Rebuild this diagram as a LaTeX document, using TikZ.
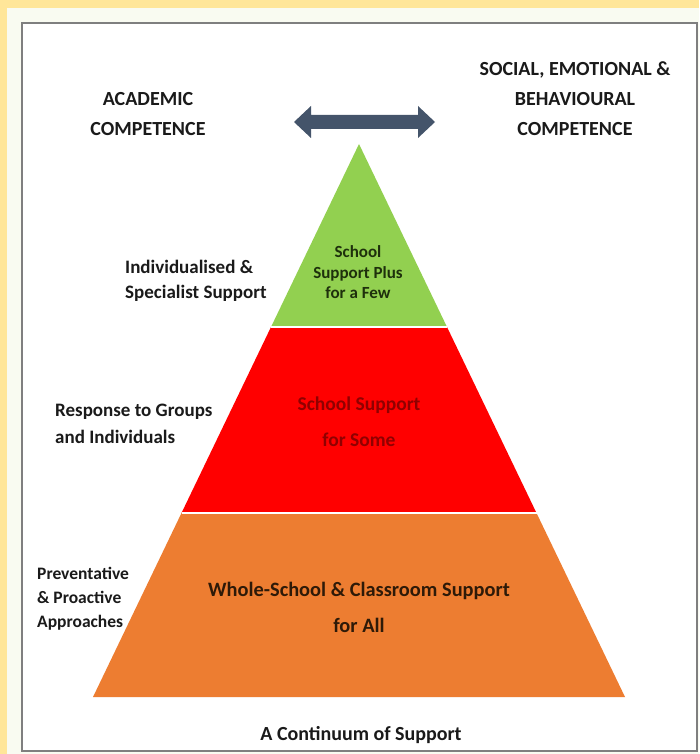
\documentclass[tikz,border=0pt]{standalone}
\usepackage{fontspec}
\setmainfont{Carlito}
\definecolor{yellowbg}{HTML}{FFE699}
\definecolor{palebg}{HTML}{F9FBF1}
\definecolor{boxgrey}{HTML}{7F7F7F}
\definecolor{tiergreen}{HTML}{92D050}
\definecolor{tierred}{HTML}{FF0000}
\definecolor{tierorange}{HTML}{ED7D31}
\definecolor{arrowcol}{HTML}{44546A}
\definecolor{txtgreen}{HTML}{1E300C}
\definecolor{txtred}{HTML}{900000}
\definecolor{txtorange}{HTML}{2E1A08}
\definecolor{txtdark}{HTML}{1A1A1A}
\tikzset{
  lbl/.style={inner sep=0pt, text=txtdark, font=\bfseries},
  hdr/.style={lbl, align=center, font=\bfseries\fontsize{20}{30}\selectfont},
  side/.style={lbl, align=left, anchor=west},
  tiertext/.style={inner sep=0pt, align=center},
  sep/.style={line width=1.6pt, draw=white}
}
\begin{document}
\begin{tikzpicture}[x=1pt,y=-1pt]
\useasboundingbox (0,0) rectangle (699,754);
\fill[yellowbg] (0,0) rectangle (699,754);
\fill[palebg] (7,8) rectangle (699,754);
\draw[boxgrey, line width=1.3pt, fill=white] (22,23) rectangle (697,751);

% pyramid tiers
\fill[tiergreen] (359,144) -- (447,327) -- (271,327) -- cycle;
\fill[tierred] (271,327) -- (447,327) -- (536.5,513) -- (181.5,513) -- cycle;
\fill[tierorange] (181.5,513) -- (536.5,513) -- (625,697) -- (93,697) -- cycle;
\draw[sep] (271,327) -- (447,327);
\draw[sep] (181.5,513) -- (536.5,513);

% double arrow
\fill[arrowcol] (294,122) -- (311,106) -- (311,115) -- (418,115) -- (418,106) -- (435,122)
  -- (418,138) -- (418,129) -- (311,129) -- (311,138) -- cycle;

% headers
\node[hdr] (acad) at (148,114) {ACADEMIC\\COMPETENCE};
\node[hdr] (sem) at (575,99) {SOCIAL, EMOTIONAL \&\\BEHAVIOURAL\\COMPETENCE};

% side labels
\node[side, font=\bfseries\fontsize{19}{25}\selectfont] (indiv) at (125,280.5) {Individualised \&\\Specialist Support};
\node[side, font=\bfseries\fontsize{19}{27}\selectfont] (resp) at (55,423.5) {Response to Groups\\and Individuals};
\node[side, font=\bfseries\fontsize{17.5}{24}\selectfont] (prev) at (37,599) {Preventative\\\& Proactive\\Approaches};

% tier texts
\node[tiertext, text=txtgreen, font=\bfseries\fontsize{17}{20.5}\selectfont] (plus) at (358,272.5) {School\\Support Plus\\for a Few};
\node[tiertext, text=txtred, font=\bfseries\fontsize{19.5}{36}\selectfont] (some) at (359,422) {School Support\\for Some};
\node[tiertext, text=txtorange, font=\bfseries\fontsize{20.4}{36}\selectfont] (all) at (359,607) {Whole-School \& Classroom Support\\for All};

% caption
\node[lbl, font=\bfseries\fontsize{20}{24}\selectfont] (cont) at (361,735) {A Continuum of Support};
\end{tikzpicture}
\end{document}
